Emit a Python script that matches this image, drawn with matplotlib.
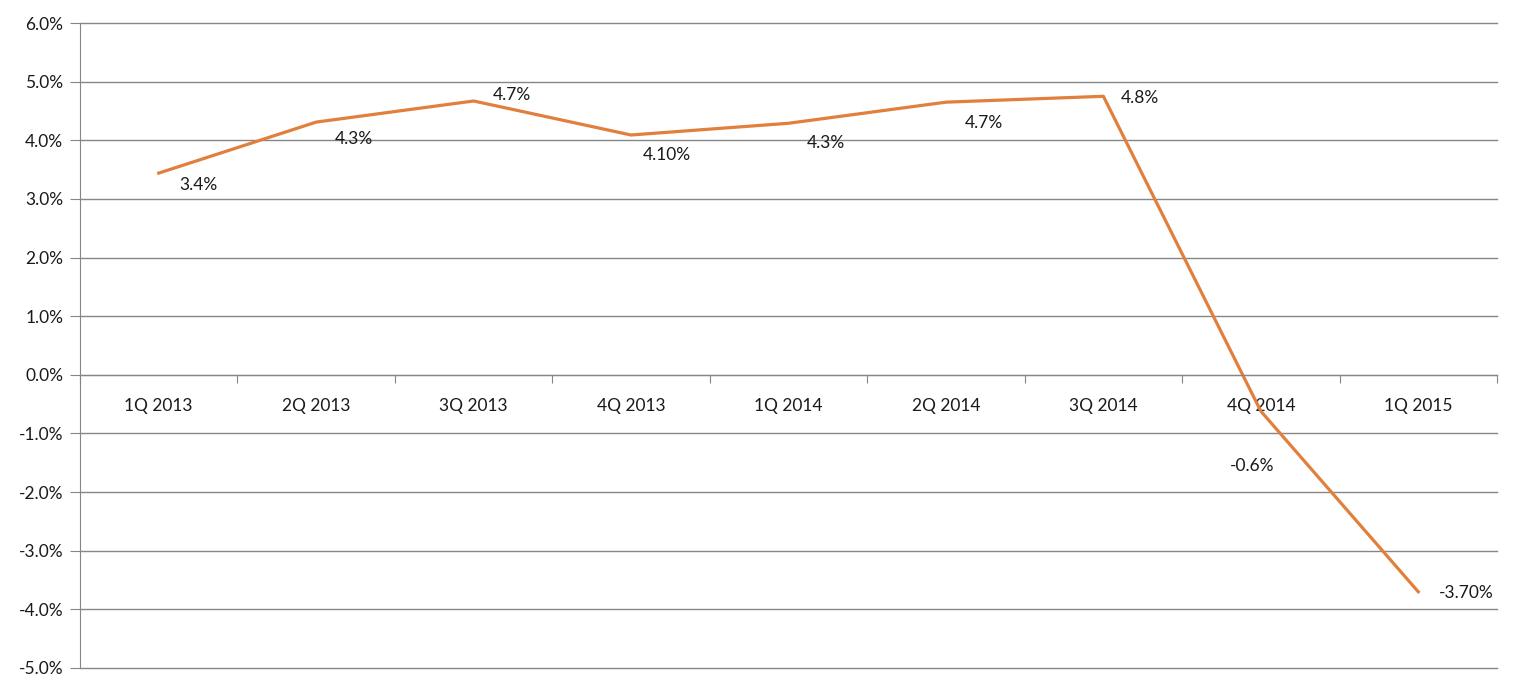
import matplotlib
matplotlib.use("Agg")
import matplotlib.pyplot as plt
import numpy as np

quarters = ['1Q 2013', '2Q 2013', '3Q 2013', '4Q 2013', '1Q 2014',
            '2Q 2014', '3Q 2014', '4Q 2014', '1Q 2015']
growth = [3.44, 4.31, 4.67, 4.09, 4.29, 4.65, 4.75, -0.62, -3.70]
point_labels = ['3.4%', '4.3%', '4.7%', '4.10%', '4.3%', '4.7%', '4.8%', '-0.6%', '-3.70%']
yticks = list(range(-5, 7))

# label offsets in pixels (dx, dy) from each point
offsets = [(40, -12), (38, -17), (38, 6), (36, -20), (37, -20),
           (38, -21), (37, -2), (-9, -55), (48, -1)]

plt.rcParams['font.family'] = ['Lato', 'DejaVu Sans']
grey = '#868686'
fs = 12.5

fig = plt.figure(figsize=(15.2, 6.93), dpi=100)
ax = fig.add_axes([80/1520, 1-668/693, (1497-80)/1520, (668-23)/693])

x = np.arange(len(quarters))
ax.plot(x, growth, color='#E17F3C', lw=2.3, solid_joinstyle='round')

for xi, yi, lab, (dx, dy) in zip(x, growth, point_labels, offsets):
    ax.annotate(lab, (xi, yi), xytext=(dx, dy), textcoords='offset pixels',
                ha='center', va='center', fontsize=fs, color='#1a1a1a')

ax.set_xlim(-0.5, len(quarters) - 0.5)
ax.set_ylim(-5, 6)
ax.set_yticks(yticks)
ax.set_yticklabels(['%.1f%%' % v for v in yticks], fontsize=fs, color='#1a1a1a')
ax.yaxis.grid(True, color=grey, lw=1)
for g in ax.get_ygridlines():
    g.set_clip_on(False)
ax.set_axisbelow(True)
ax.tick_params(axis='y', length=7, color=grey, pad=5)

# category axis sits at zero
ax.spines['bottom'].set_position(('data', 0))
ax.spines['bottom'].set_color(grey)
ax.spines['left'].set_color(grey)
ax.spines['top'].set_visible(False)
ax.spines['right'].set_visible(False)
ax.xaxis.set_ticks_position('bottom')
ax.set_xticks(np.arange(len(quarters) + 1) - 0.5)
ax.set_xticklabels([])
ax.tick_params(axis='x', which='major', length=6, direction='out', color=grey)
ax.set_xticks(x, minor=True)
ax.set_xticklabels(quarters, minor=True, fontsize=fs, color='#1a1a1a')
ax.tick_params(axis='x', which='minor', length=0, pad=17)

fig.savefig('out.png', dpi=100)
